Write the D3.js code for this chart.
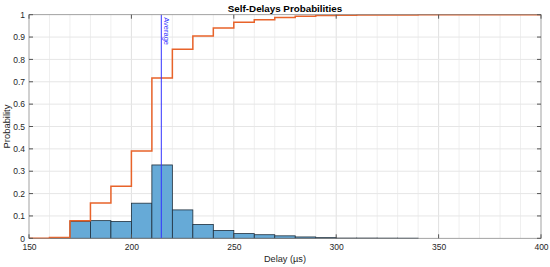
<!DOCTYPE html>
<html><head><meta charset="utf-8">
<script src="https://cdn.jsdelivr.net/npm/d3@7"></script>
<style>body{margin:0;background:#fff}svg{display:block;font-family:"Liberation Sans",Arial,sans-serif}</style>
</head><body><svg id="c" width="550" height="267"></svg>
<script>
// Histogram bin edges (µs) and probabilities
const binEdges = [160,170,180,190,200,210,220,230,240,250,260,270,280,290,300,310,320,330,340];
const binProbs = [0.004,0.075,0.079,0.075,0.157,0.328,0.127,0.062,0.035,0.021,0.016,0.011,0.006,0.003,0.001,0.001,0.0007,0.0005];
// CDF stairs: x positions and values
const cdfX = [150,160,170,180,190,200,210,220,230,240,250,260,270,280,290,300,310,340,400];
const cdfY = [0,0.004,0.079,0.158,0.233,0.39,0.717,0.845,0.905,0.941,0.966,0.977,0.987,0.993,0.996,0.998,0.999,1,1];
const avgDelay = 214.6;
const xTicks = [150,200,250,300,350,400];
const yTicks = [0,0.1,0.2,0.3,0.4,0.5,0.6,0.7,0.8,0.9,1];

const svg = d3.select("#c");
const L=29,R=541,T=14.7,B=238.3;
const x = d3.scaleLinear().domain([150,400]).range([L,R]);
const y = d3.scaleLinear().domain([0,1]).range([B,T]);

// grid
const g = svg.append("g");
g.selectAll(".vg").data(d3.range(160,400,10)).join("line")
 .attr("x1",d=>x(d)).attr("x2",d=>x(d)).attr("y1",T).attr("y2",B)
 .attr("stroke",d=>d%50===0?"#e0e0e0":"#efefef").attr("stroke-width",1);
g.selectAll(".hg").data(yTicks.slice(1,-1)).join("line")
 .attr("x1",L).attr("x2",R).attr("y1",d=>y(d)).attr("y2",d=>y(d))
 .attr("stroke","#e6e6e6").attr("stroke-width",1);

// bars
const bins = binProbs.map((p,i)=>({x0:binEdges[i],x1:binEdges[i+1],p}));
svg.append("g").selectAll("rect").data(bins).join("rect")
 .attr("x",d=>x(d.x0)).attr("width",d=>x(d.x1)-x(d.x0))
 .attr("y",d=>y(d.p)).attr("height",d=>B-y(d.p))
 .attr("fill","#66aad7").attr("stroke","#1f2f3c").attr("stroke-width",0.8);

// CDF
const cdf = cdfX.map((v,i)=>[v,cdfY[i]]);
svg.append("path").datum(cdf)
 .attr("d",d3.line().x(d=>x(d[0])).y(d=>y(d[1])).curve(d3.curveStepAfter))
 .attr("fill","none").attr("stroke","#e8632a").attr("stroke-width",1.5);

// average line
svg.append("line").attr("x1",x(avgDelay)).attr("x2",x(avgDelay)).attr("y1",T).attr("y2",B)
 .attr("stroke","#3333ff").attr("stroke-width",1);
svg.append("text").attr("transform",`translate(${x(avgDelay)+2.5},${T+2.5}) rotate(90)`)
 .attr("font-size",7.5).attr("fill","#3333ff").text("Average");

// axes box
const ax = svg.append("g");
ax.append("rect").attr("x",L).attr("y",T).attr("width",R-L).attr("height",B-T)
 .attr("fill","none").attr("stroke","#8a8a8a").attr("stroke-width",0.8);
const xa = d3.axisBottom(x).tickValues(xTicks).tickSize(0).tickPadding(5.5);
const xg = svg.append("g").attr("transform",`translate(0,${B})`).call(xa);
xg.select(".domain").remove();
xg.selectAll("text").attr("font-size",8.5).attr("fill","#262626").attr("font-family","Liberation Sans, Arial, sans-serif");
const ya = d3.axisLeft(y).tickValues(yTicks).tickFormat(d3.format("~g")).tickSize(0).tickPadding(4);
const yg = svg.append("g").attr("transform",`translate(${L},0)`).call(ya);
yg.select(".domain").remove();
yg.selectAll("text").attr("font-size",8.5).attr("fill","#262626").attr("font-family","Liberation Sans, Arial, sans-serif");
// inward ticks
ax.selectAll(".tx").data(xTicks).join("g").each(function(d){
  const s=d3.select(this);
  s.append("line").attr("x1",x(d)).attr("x2",x(d)).attr("y1",B).attr("y2",B-4).attr("stroke","#555");
  s.append("line").attr("x1",x(d)).attr("x2",x(d)).attr("y1",T).attr("y2",T+4).attr("stroke","#555");
});
ax.selectAll(".ty").data(yTicks).join("g").each(function(d){
  const s=d3.select(this);
  s.append("line").attr("x1",L).attr("x2",L+4).attr("y1",y(d)).attr("y2",y(d)).attr("stroke","#555");
  s.append("line").attr("x1",R).attr("x2",R-4).attr("y1",y(d)).attr("y2",y(d)).attr("stroke","#555");
});

// labels
svg.append("text").attr("x",(L+R)/2).attr("y",11.5).attr("text-anchor","middle")
 .attr("font-size",9.8).attr("font-weight","bold").attr("fill","#000").text("Self-Delays Probabilities");
svg.append("text").attr("x",(L+R)/2).attr("y",261.5).attr("text-anchor","middle")
 .attr("font-size",9.2).attr("fill","#262626").text("Delay (µs)");
svg.append("text").attr("transform",`translate(10,${(T+B)/2}) rotate(-90)`).attr("text-anchor","middle")
 .attr("font-size",9.4).attr("fill","#262626").text("Probability");
</script></body></html>
